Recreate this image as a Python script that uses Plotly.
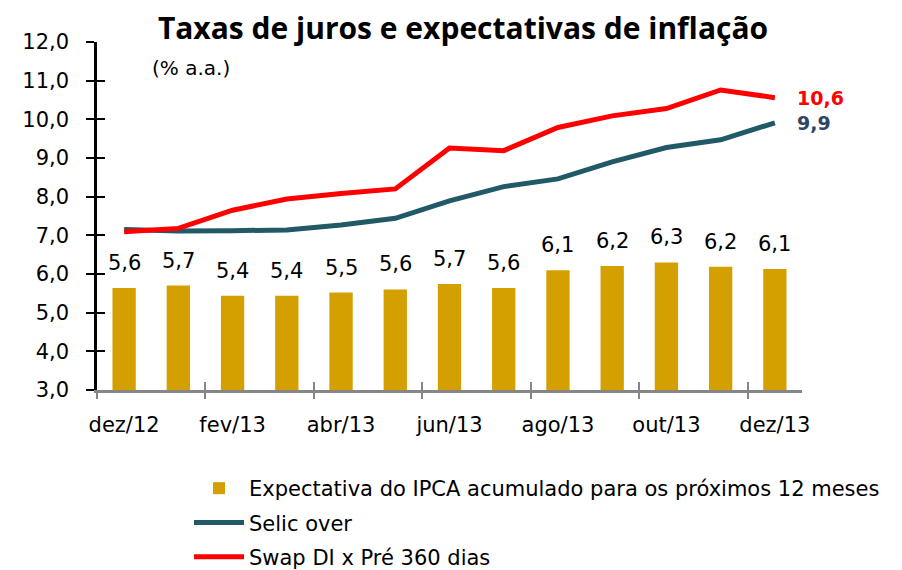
import plotly.graph_objects as go

categories = ["dez/12", "jan/13", "fev/13", "mar/13", "abr/13", "mai/13", "jun/13",
              "jul/13", "ago/13", "set/13", "out/13", "nov/13", "dez/13"]
ipca_expect = [5.64, 5.70, 5.44, 5.44, 5.52, 5.60, 5.74, 5.64, 6.10, 6.21, 6.30, 6.19, 6.13]
selic = [7.15, 7.11, 7.12, 7.14, 7.27, 7.44, 7.89, 8.26, 8.46, 8.90, 9.27, 9.47, 9.91]
swap = [7.09, 7.18, 7.65, 7.94, 8.08, 8.20, 9.26, 9.19, 9.79, 10.09, 10.28, 10.76, 10.56]
tick_labels = ["dez/12", "fev/13", "abr/13", "jun/13", "ago/13", "out/13", "dez/13"]

FONT = "DejaVu Sans"
TITLE_FONT = "Open Sans"
GOLD = "#D4A000"
TEAL = "#215967"
RED = "#FF0000"
NAVY = "#2E4566"

n = len(categories)
xs = list(range(n))
boundaries = [i - 0.5 for i in range(0, n, 2)]
label_pos = list(range(0, n, 2))
xrange_ = [-0.5, n - 0.5]
yrange_ = [3, 12]

fig = go.Figure()
fig.add_trace(go.Bar(x=xs, y=ipca_expect, marker=dict(color=GOLD, line=dict(width=0)),
                     name="Expectativa do IPCA acumulado para os próximos 12 meses",
                     legendgroup="a", width=0.43, xaxis="x", yaxis="y"))
fig.add_trace(go.Scatter(x=xs, y=selic, mode="lines", line=dict(color=TEAL, width=5),
                         name="Selic over", legendgroup="b", xaxis="x2", yaxis="y"))
fig.add_trace(go.Scatter(x=xs, y=swap, mode="lines", line=dict(color=RED, width=5),
                         name="Swap DI x Pré 360 dias", legendgroup="c", xaxis="x3", yaxis="y2"))

# bar value labels
for i, v in enumerate(ipca_expect):
    fig.add_annotation(x=xs[i], y=v, xref="x", yref="y", text=f"{v:.1f}".replace(".", ","),
                       showarrow=False, yshift=25, yanchor="middle",
                       font=dict(family=FONT, size=21, color="#000000"))
# end-of-line labels
fig.add_annotation(x=xs[-1], y=swap[-1], xref="x", yref="y", text=f"<b>{swap[-1]:.1f}</b>".replace(".", ","),
                   showarrow=False, xanchor="left", xshift=20, yanchor="middle",
                   font=dict(family=FONT, size=19, color=RED))
fig.add_annotation(x=xs[-1], y=selic[-1], xref="x", yref="y", text=f"<b>{selic[-1]:.1f}</b>".replace(".", ","),
                   showarrow=False, xanchor="left", xshift=20, yanchor="middle",
                   font=dict(family=FONT, size=19, color=NAVY))
# subtitle
fig.add_annotation(x=0.075, y=0.925, xref="paper", yref="paper", text="(% a.a.)",
                   showarrow=False, xanchor="left", yanchor="middle",
                   font=dict(family=FONT, size=20, color="#000000"))

axis_common = dict(range=xrange_, showgrid=False, zeroline=False, fixedrange=True, automargin=False)
fig.update_layout(
    width=902, height=570,
    paper_bgcolor="white", plot_bgcolor="white",
    separators=",.",
    margin=dict(l=89, r=108, t=34, b=188, autoexpand=False),
    font=dict(family=FONT, size=20, color="#000000"),
    title=dict(text="<b>Taxas de juros e expectativas de inflação</b>",
               xref="container", yref="container", x=455 / 902, xanchor="center",
               y=1 - 20 / 570, yanchor="middle",
               font=dict(family=TITLE_FONT, size=30, color="#000000")),
    bargap=0.57,
    xaxis=dict(**axis_common, tickmode="array", tickvals=boundaries, showticklabels=False,
               ticks="inside", ticklen=8, tickwidth=2, tickcolor="#868686",
               showline=True, linecolor="#868686", linewidth=2.5),
    xaxis2=dict(**axis_common, overlaying="x", side="bottom", tickmode="array", tickvals=boundaries,
                showticklabels=False, ticks="outside", ticklen=8, tickwidth=2, tickcolor="#868686",
                showline=False),
    xaxis3=dict(**axis_common, overlaying="x", side="bottom", tickmode="array", tickvals=label_pos,
                ticktext=tick_labels, ticks="", showline=False, ticklabelstandoff=20,
                tickfont=dict(family=FONT, size=21, color="#000000")),
    yaxis=dict(range=yrange_, tickmode="array", tickvals=list(range(3, 13)), tickformat=".1f",
               ticks="outside", ticklen=8, tickwidth=2, tickcolor="#000000", automargin=False,
               showline=True, linecolor="#000000", linewidth=2.5, showgrid=False, zeroline=False,
               ticklabelstandoff=13, tickfont=dict(family=FONT, size=21, color="#000000")),
    yaxis2=dict(range=yrange_, overlaying="y", side="left", tickmode="array", tickvals=list(range(3, 13)),
                ticks="inside", ticklen=8, tickwidth=2, tickcolor="#000000", showticklabels=False,
                showline=False, showgrid=False, zeroline=False, automargin=False),
    legend=dict(orientation="v", xref="container", yref="container",
                x=181 / 902, y=1 - 460 / 570, xanchor="left", yanchor="top",
                font=dict(family=FONT, size=21, color="#000000"), bgcolor="rgba(0,0,0,0)",
                itemwidth=50, tracegroupgap=4),
    showlegend=True,
)

fig.write_html("out.html")
